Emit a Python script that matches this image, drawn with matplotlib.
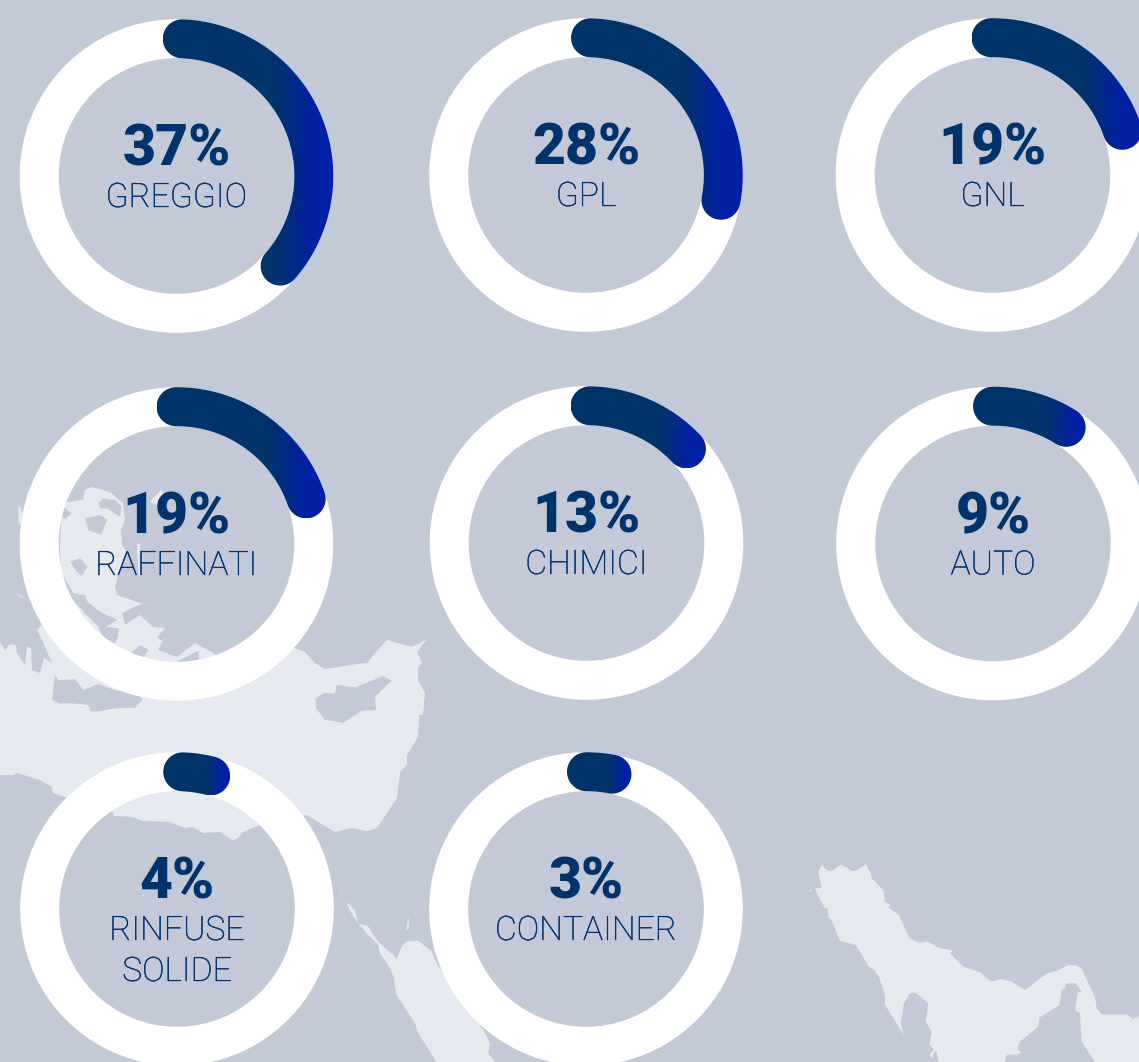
import numpy as np
import matplotlib
matplotlib.use("Agg")
import matplotlib.pyplot as plt
import matplotlib.patheffects as pe
from matplotlib.colors import LinearSegmentedColormap
from matplotlib.patches import Polygon, Wedge, PathPatch
from matplotlib.path import Path

W, H = 1139, 1062

labels = ["GREGGIO", "GPL", "GNL", "RAFFINATI", "CHIMICI", "AUTO", "RINFUSE\nSOLIDE", "CONTAINER"]
values = [37, 28, 19, 19, 13, 9, 4, 3]
end_deg = [131, 100.6, 71, 70.8, 46.7, 32.2, 14.2, 10.9]
start_deg = [2.4, 1.9, -0.6, -0.2, 1.5, -0.2, 2.4, 0.2]
centers_x = [176.5, 586, 992.5, 176.5, 586.5, 993, 177, 586]
centers_y = [176, 175, 175, 544, 543, 543.5, 909, 909]

BG = "#c3c9d7"
LAND = "#e6e9ef"
TEXT = "#00336c"
DARK = "#003369"
BLUE = "#0020a5"

R_OUT = 156.8
R_IN = 117.8

# background map (zoomed crops: x0, y0, then points at 3x)
def zoomed(x0, y0, pts):
    return [(x0 + a / 3, y0 + b / 3) for a, b in pts]

med_land = [(0, 642), (5, 650), (10, 644), (16, 645), (17, 653), (25, 665), (27, 647), (31, 648),
            (32, 670), (40, 673), (44, 658), (52, 663), (42, 640), (37, 630), (62, 600), (60, 545),
            (62, 503), (83, 500), (85, 490), (92, 487), (110, 492), (123, 503), (125, 520), (121, 530),
            (122, 545), (127, 552), (118, 575), (115, 587), (117, 595), (140, 603), (154, 606),
            (143, 603), (122, 613), (125, 625), (140, 615), (153, 627), (165, 628), (157, 637),
            (160, 640), (180, 638), (163, 640), (158, 650), (177, 657), (195, 643), (213, 653),
            (217, 657), (280, 640), (295, 648), (305, 652), (315, 663), (325, 669), (363, 663),
            (367, 663), (375, 653), (387, 640), (412, 647), (420, 643), (427, 639), (417, 652),
            (422, 663), (418, 667), (418, 680), (425, 693), (423, 715), (419, 715), (418, 737),
            (407, 755), (407, 765), (400, 772), (397, 798), (377, 828), (368, 831), (350, 828),
            (335, 832), (318, 822), (307, 815), (260, 825), (243, 832), (237, 839), (232, 840),
            (220, 832), (203, 833), (193, 827), (185, 828), (170, 822), (143, 821), (133, 817),
            (114, 816), (113, 812), (65, 797), (53, 793), (52, 787), (40, 780), (17, 773), (13, 775),
            (0, 775)]

sea_holes = [
    zoomed(0, 480, [(295, 70), (310, 55), (345, 60), (365, 80), (360, 110), (320, 85), (300, 85)]),
    zoomed(0, 480, [(255, 115), (300, 105), (322, 118), (303, 165), (265, 150)]),
    zoomed(0, 480, [(190, 80), (215, 100), (195, 118), (180, 100)]),
    zoomed(0, 480, [(212, 245), (240, 235), (263, 260), (245, 287), (225, 270)]),
    zoomed(0, 480, [(180, 270), (220, 340), (255, 345), (262, 365), (300, 395), (352, 420), (318, 440),
                    (355, 445), (355, 470), (345, 490), (310, 478), (295, 440), (255, 400), (210, 350)]),
    zoomed(0, 480, [(392, 520), (420, 495), (445, 510), (430, 532)]),
    zoomed(0, 480, [(530, 545), (595, 512), (597, 550)]),
    zoomed(0, 470, [(947, 685), (975, 668), (1005, 672), (1010, 645), (1065, 652), (1150, 618), (1175, 632),
                    (1125, 680), (1128, 720), (1085, 722), (1030, 758), (975, 750), (948, 715)]),
    zoomed(0, 640, [(165, 105), (175, 120), (225, 118), (250, 150), (295, 132), (345, 150), (420, 170),
                    (428, 178), (405, 203), (345, 205), (300, 213), (272, 215), (265, 195), (238, 192),
                    (210, 190), (180, 190), (157, 180), (160, 150)]),
]

land_bits = [
    zoomed(0, 480, [(450, 65), (485, 28), (492, 55), (480, 80)]),
    zoomed(0, 480, [(410, 192), (422, 190), (418, 235), (424, 295), (416, 280)]),
    zoomed(0, 480, [(55, 75), (62, 85), (68, 100), (62, 135), (55, 125)]),
    zoomed(0, 480, [(47, 338), (60, 345), (78, 355), (60, 350)]),
    zoomed(330, 880, [(228, 150), (235, 110), (237, 145)]),
    zoomed(330, 880, [(28, 28), (40, 48), (34, 42)]),
    zoomed(780, 840, [(88, 150), (98, 148), (92, 154)]),
    zoomed(780, 840, [(447, 648), (465, 620), (470, 628), (455, 652)]),
]

gulf_land = zoomed(780, 840, [
    (125, 75), (143, 92), (160, 92), (182, 73), (205, 85), (212, 93), (230, 92), (257, 73), (272, 100),
    (275, 115), (310, 150), (315, 185), (330, 195), (325, 203), (357, 225), (388, 295), (415, 308),
    (445, 305), (475, 323), (518, 332), (510, 340), (550, 380), (600, 397), (633, 425), (665, 417),
    (695, 425), (735, 450), (800, 400), (830, 393), (865, 375), (890, 378), (905, 385), (925, 430),
    (945, 470), (950, 505), (965, 523), (1040, 523), (1060, 538), (1077, 527), (1077, 666), (945, 666),
    (905, 605), (900, 520), (885, 510), (893, 458), (905, 455), (887, 430), (858, 430), (855, 445),
    (845, 450), (838, 495), (778, 533), (775, 560), (720, 605), (712, 628), (725, 637), (712, 643),
    (680, 645), (675, 666), (475, 666), (470, 635), (448, 615), (455, 575), (437, 545), (445, 490),
    (415, 465), (405, 458), (390, 460), (372, 490), (362, 550), (372, 585), (315, 495), (315, 465),
    (297, 410), (280, 388), (265, 378), (228, 315), (180, 303), (155, 240), (145, 232), (143, 205),
    (135, 205), (118, 175), (105, 145), (125, 143), (115, 95)])

red_sea_land = zoomed(330, 880, [
    (47, 65), (75, 90), (85, 130), (115, 140), (130, 165), (150, 190), (190, 225), (200, 237), (215, 200),
    (228, 185), (265, 182), (305, 215), (320, 250), (460, 450), (480, 490), (475, 520), (495, 546),
    (320, 546), (265, 460), (255, 430), (200, 345), (190, 290), (178, 260), (150, 220), (145, 195),
    (115, 165), (90, 135), (70, 110)])


def arc_path(cx, cy, a0, a1):
    # stroke with round ends, angles clockwise from the top
    rm = (R_OUT + R_IN) / 2
    hw = (R_OUT - R_IN) / 2
    t = np.radians(np.linspace(a0, a1, 120))
    outer = np.c_[cx + R_OUT * np.sin(t), cy - R_OUT * np.cos(t)]
    inner = np.c_[cx + R_IN * np.sin(t[::-1]), cy - R_IN * np.cos(t[::-1])]
    s = np.linspace(0, np.pi, 24)
    ex, ey = cx + rm * np.sin(t[-1]), cy - rm * np.cos(t[-1])
    sx, sy = cx + rm * np.sin(t[0]), cy - rm * np.cos(t[0])
    # unit vectors pointing outwards at both ends
    ue = np.array([np.sin(t[-1]), -np.cos(t[-1])])
    us = np.array([np.sin(t[0]), -np.cos(t[0])])
    te = np.array([np.cos(t[-1]), np.sin(t[-1])])
    ts = np.array([-np.cos(t[0]), -np.sin(t[0])])
    cap_end = np.array([ex, ey]) + hw * (np.outer(np.cos(s), ue) + np.outer(np.sin(s), te))
    cap_start = np.array([sx, sy]) + hw * (np.outer(np.cos(s), -us) + np.outer(np.sin(s), ts))
    pts = np.vstack([outer, cap_end, inner, cap_start])
    return Path(np.vstack([pts, pts[0]]), closed=True)


fig = plt.figure(figsize=(W / 100, H / 100), dpi=100, facecolor=BG)
ax = fig.add_axes([0, 0, 1, 1])
ax.set_facecolor(BG)

for poly in [med_land, gulf_land, red_sea_land] + land_bits:
    ax.add_patch(Polygon(poly, closed=True, fc=LAND, ec="none", zorder=1))
for poly in sea_holes:
    ax.add_patch(Polygon(poly, closed=True, fc=BG, ec="none", zorder=2))

cmap = LinearSegmentedColormap.from_list("arc", [(0, DARK), (0.65, DARK), (0.88, BLUE), (1, BLUE)])
grad = np.linspace(0, 1, 256).reshape(1, -1)

for i in range(len(values)):
    cx, cy = centers_x[i], centers_y[i]
    ax.add_patch(Wedge((cx, cy), R_OUT, 0, 360, width=R_OUT - R_IN, fc="white", ec="none", zorder=3))

    path = arc_path(cx, cy, start_deg[i], end_deg[i])
    ext = path.get_extents()
    im = ax.imshow(grad, cmap=cmap, vmin=0, vmax=1, aspect="auto", zorder=4,
                   extent=[ext.x0, ext.x1, ext.y1, ext.y0], interpolation="bilinear")
    patch = PathPatch(path, fc="none", ec="none", transform=ax.transData)
    ax.add_patch(patch)
    im.set_clip_path(patch)

    ax.text(cx, cy - 10.5, f"{values[i]}%", ha="center", va="baseline", family="Roboto",
            fontweight="black", fontsize=41, color=TEXT, zorder=5)
    for j, line in enumerate(labels[i].split("\n")):
        ax.text(cx, cy + 31 + j * 41, line, ha="center", va="baseline", family="Roboto",
                fontweight="light", fontsize=24.2, color=TEXT, zorder=5,
                path_effects=[pe.withStroke(linewidth=0.25, foreground=TEXT)])

ax.set_xlim(0, W)
ax.set_ylim(H, 0)
ax.axis("off")

fig.savefig("out.png", dpi=100, facecolor=BG)
